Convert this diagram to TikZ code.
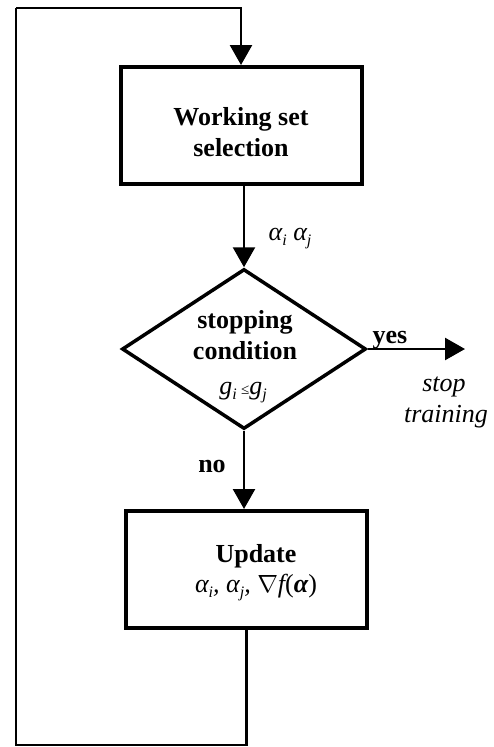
\documentclass[tikz,border=0pt]{standalone}
\usepackage{fontspec}
\setmainfont{Liberation Serif}
\usetikzlibrary{arrows.meta,shapes.geometric}
\newcommand{\sbs}[1]{\raisebox{-0.22em}{\fontsize{16}{16}\selectfont\itshape #1}}
\begin{document}
\begin{tikzpicture}[x=1pt,y=-1pt,
  every node/.style={font=\fontsize{26}{31}\selectfont},
  boxnode/.style={draw,line width=4pt,minimum width=241pt,minimum height=117pt,inner sep=0pt},
  decnode/.style={draw,diamond,line width=3.5pt,minimum width=244pt,minimum height=160pt,inner sep=0pt},
  conn/.style={line width=2.5pt},
  arr/.style={conn,-{Triangle[length=20pt,width=22pt]}},
  bt/.style={font=\fontsize{26}{31}\selectfont\bfseries,anchor=base,inner sep=0pt},
  it/.style={font=\fontsize{26}{31}\selectfont\itshape,anchor=base,inner sep=0pt}]
\useasboundingbox (0,0) rectangle (494,747);
% nodes
\node[boxnode] (b1) at (241,125.5) {};
\node[decnode] (d) at (244,349) {};
\node[boxnode] (b2) at (246.5,569.5) {};
\coordinate (stopc) at (465,349);
\coordinate (c1) at (16,745);
\coordinate (c2) at (16,8);
% texts
\node[bt] (t1a) at (241,125) {Working set};
\node[bt] (t1b) at (241,156) {selection};
\node[bt] (t2a) at (245,328) {stopping};
\node[bt] (t2b) at (245,359) {condition};
\node[it] (t2c) at (243,394) {g\sbs{i}\,{\fontsize{15}{15}\selectfont\upshape≤}g\sbs{j}};
\node[bt] (t3a) at (256,562) {Update};
\node[it] (t3b) at (256,592) {α\sbs{i}, α\sbs{j}, {\upshape$\nabla$}f{\upshape(}{\bfseries α}{\upshape)}};
\node[it] (lab1) at (290,240) {α\sbs{i} α\sbs{j}};
\node[bt] (yes) at (390,343) {yes};
\node[bt] (no) at (212,472) {no};
\node[it] (st1) at (444,391) {stop};
\node[it] (st2) at (446,422) {training};
% connectors
\draw[arr] (d.north |- b1.south) -- (d.north);
\draw[arr] (d.south) -- (d.south |- b2.north);
\draw[arr] (d.east) -- (stopc);
\draw[conn] (b2.south) |- (c1) -- (c2);
\draw[arr] (c2) -| (b1.north);
\end{tikzpicture}
\end{document}
